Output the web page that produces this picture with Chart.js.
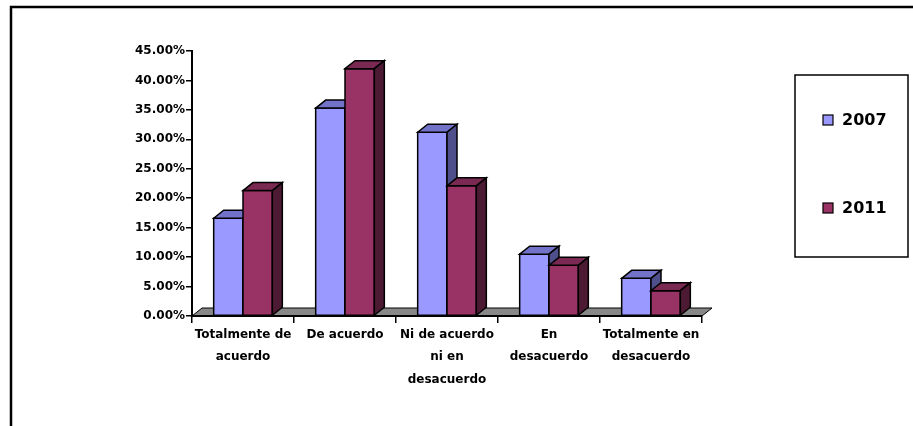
<!DOCTYPE html>
<html>
<head>
<meta charset="utf-8">
<style>
  html, body { margin: 0; padding: 0; background: #ffffff; }
  #wrap { position: relative; width: 913px; height: 426px; }
  canvas { display: block; }
</style>
<script src="https://cdn.jsdelivr.net/npm/chart.js@4/dist/chart.umd.min.js"></script>
</head>
<body>
<div id="wrap"><canvas id="c" width="913" height="426"></canvas></div>
<script>
// Survey answers by category, share of respondents (%)
const categories = [
  ["Totalmente de", "acuerdo"],
  ["De acuerdo"],
  ["Ni de acuerdo", "ni en", "desacuerdo"],
  ["En", "desacuerdo"],
  ["Totalmente en", "desacuerdo"]
];
const seriesLabels = ["2007", "2011"];
const values2007 = [16.6, 35.3, 31.2, 10.5, 6.4];
const values2011 = [21.3, 42.0, 22.1, 8.6, 4.3];
const yTickValues = [0, 5, 10, 15, 20, 25, 30, 35, 40, 45];

// Face colours for the extruded bars: front, top, side
const faces = [
  { front: "#9999ff", top: "#7272c9", side: "#4f4f8c" },
  { front: "#993366", top: "#7a2952", side: "#4d1a33" }
];
const DX = 10, DY = -8;           // extrusion depth of bars and floor
const FONT = "'DejaVu Sans', 'Liberation Sans', Arial, sans-serif";

function poly(ctx, pts, fill) {
  ctx.beginPath();
  ctx.moveTo(pts[0][0], pts[0][1]);
  for (let i = 1; i < pts.length; i++) ctx.lineTo(pts[i][0], pts[i][1]);
  ctx.closePath();
  ctx.fillStyle = fill;
  ctx.fill();
  ctx.stroke();
}

// Outer frame, gray floor under the bars
const framePlugin = {
  id: "frame",
  beforeDraw(chart) {
    const ctx = chart.ctx;
    const a = chart.chartArea;
    ctx.save();
    ctx.strokeStyle = "#000";
    ctx.lineWidth = 2.5;
    ctx.beginPath();
    ctx.moveTo(11, 430);
    ctx.lineTo(11, 7);
    ctx.lineTo(920, 7);
    ctx.stroke();

    ctx.lineWidth = 1;
    ctx.lineJoin = "miter";
    poly(ctx, [
      [a.left, a.bottom],
      [a.left + DX, a.bottom + DY],
      [a.right + DX, a.bottom + DY],
      [a.right, a.bottom]
    ], "#888888");
    ctx.restore();
  }
};

// Bars drawn as boxes (front, top and side faces) from the bar elements
const boxPlugin = {
  id: "boxes",
  beforeDatasetDraw() { return false; },
  afterDatasetsDraw(chart) {
    const ctx = chart.ctx;
    ctx.save();
    ctx.strokeStyle = "#000";
    ctx.lineWidth = 1.5;
    ctx.lineJoin = "miter";
    const n = chart.data.labels.length;
    for (let i = 0; i < n; i++) {
      chart.data.datasets.forEach((ds, d) => {
        const el = chart.getDatasetMeta(d).data[i];
        const { x, y, base, width } = el.getProps(["x", "y", "base", "width"], true);
        const l = x - width / 2, r = x + width / 2;
        const f = faces[d];
        poly(ctx, [[l, y], [r, y], [r, base], [l, base]], f.front);
        poly(ctx, [[l, y], [l + DX, y + DY], [r + DX, y + DY], [r, y]], f.top);
        poly(ctx, [[r, y], [r + DX, y + DY], [r + DX, base + DY], [r, base]], f.side);
      });
    }
    ctx.restore();
  },
  afterDraw(chart) {
    // Legend box at the right
    const ctx = chart.ctx;
    ctx.save();
    ctx.strokeStyle = "#000";
    ctx.lineWidth = 1.5;
    ctx.strokeRect(795, 75, 113, 182);
    const rows = [120, 208];
    chart.data.datasets.forEach((ds, d) => {
      const cy = rows[d];
      ctx.fillStyle = faces[d].front;
      ctx.lineWidth = 1.2;
      ctx.fillRect(823, cy - 5, 10, 10);
      ctx.strokeRect(823, cy - 5, 10, 10);
      ctx.fillStyle = "#000";
      ctx.font = "bold 16px " + FONT;
      ctx.textBaseline = "middle";
      ctx.textAlign = "left";
      ctx.fillText(ds.label, 842, cy + 1);
    });
    ctx.restore();
  }
};

new Chart(document.getElementById("c"), {
  type: "bar",
  data: {
    labels: categories,
    datasets: [
      { label: seriesLabels[0], data: values2007, backgroundColor: faces[0].front },
      { label: seriesLabels[1], data: values2011, backgroundColor: faces[1].front }
    ]
  },
  options: {
    responsive: false,
    animation: false,
    devicePixelRatio: 1,
    layout: { padding: { left: 10, right: 211, top: 51, bottom: 10 } },
    datasets: { bar: { categoryPercentage: 0.575, barPercentage: 1.0 } },
    plugins: { legend: { display: false }, tooltip: { enabled: false } },
    scales: {
      x: {
        offset: true,
        afterFit(s) { s.height = 100; },
        grid: { offset: true, drawOnChartArea: false, drawTicks: true, tickLength: 7, color: "#000", lineWidth: 1.5 },
        border: { display: true, color: "#000", width: 2 },
        ticks: {
          color: "#000",
          padding: 1,
          maxRotation: 0,
          autoSkip: false,
          font: { family: FONT, size: 12, weight: "bold", lineHeight: 1.85 }
        }
      },
      y: {
        min: 0,
        max: 45,
        afterFit(s) { s.width = 182; },
        afterBuildTicks(s) { s.ticks = yTickValues.map(v => ({ value: v })); },
        grid: { drawOnChartArea: false, drawTicks: true, tickLength: 6, color: "#000", lineWidth: 1.5 },
        border: { display: true, color: "#000", width: 2 },
        ticks: {
          color: "#000",
          padding: 1,
          font: { family: FONT, size: 12, weight: "bold" },
          callback: v => Number(v).toFixed(2) + "%"
        }
      }
    }
  },
  plugins: [framePlugin, boxPlugin]
});
</script>
</body>
</html>
